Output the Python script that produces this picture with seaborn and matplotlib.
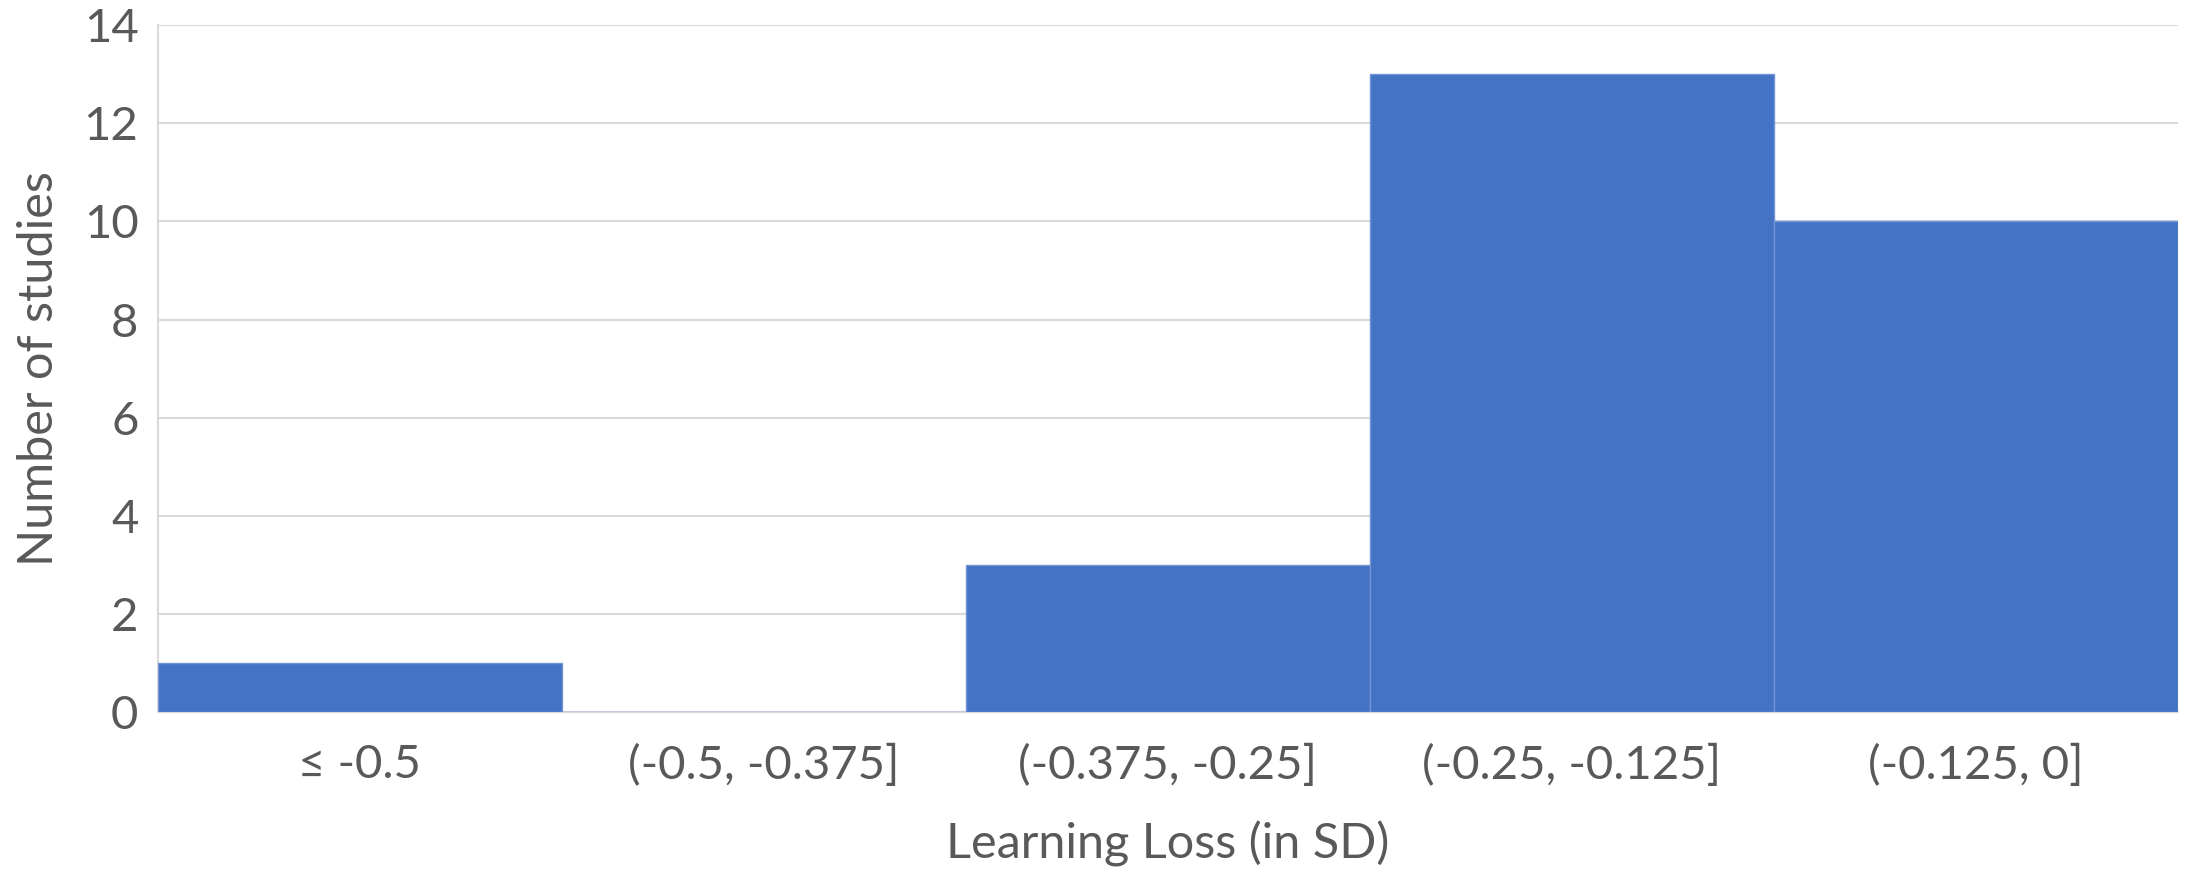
import numpy as np
import pandas as pd
import matplotlib
matplotlib.use("Agg")
import matplotlib.pyplot as plt
import seaborn as sns

# Data
bins = ["≤ -0.5", "(-0.5, -0.375]", "(-0.375, -0.25]", "(-0.25, -0.125]", "(-0.125, 0]"]
n_studies = [1, 0, 3, 13, 10]
y_ticks = [0, 2, 4, 6, 8, 10, 12, 14]

df = pd.DataFrame({"bin": bins, "n": n_studies})

sns.set_theme(style="white")
plt.rcParams["font.family"] = ["Lato", "DejaVu Sans"]

text_color = "#595959"
grid_color = "#d9d9d9"
bar_color = "#4472C4"

fig = plt.figure(figsize=(21.93, 8.72), dpi=100)
ax = fig.add_axes([0.072, 0.1835, 0.921, 0.7875])

sns.barplot(data=df, x="bin", y="n", color=bar_color, saturation=1,
            width=1.0, edgecolor="#7195d6", linewidth=1.0, ax=ax, zorder=3)

ax.set_ylim(0, 14)
ax.set_xlim(-0.5, len(bins) - 0.5)
ax.set_yticks(y_ticks)
ax.yaxis.grid(True, color=grid_color, linewidth=1.5, zorder=0)
ax.set_axisbelow(True)

for side in ["top", "right"]:
    ax.spines[side].set_visible(False)
ax.spines["left"].set_color(grid_color)
ax.spines["left"].set_linewidth(1.5)
ax.spines["bottom"].set_color(grid_color)
ax.spines["bottom"].set_linewidth(1.5)

ax.tick_params(axis="both", length=0, labelsize=34, labelcolor=text_color)
ax.tick_params(axis="x", pad=23)
ax.tick_params(axis="y", pad=14)

ax.set_xlabel("Learning Loss (in SD)", fontsize=35, color=text_color, labelpad=24)
ax.set_ylabel("Number of studies", fontsize=35, color=text_color, labelpad=16)

fig.savefig("out.png", dpi=100)
